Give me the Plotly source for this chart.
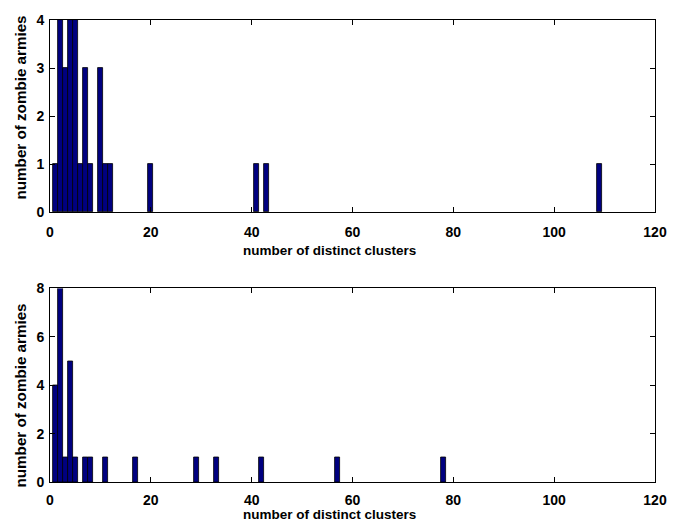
import plotly.graph_objects as go
from plotly.subplots import make_subplots

# Histogram counts: number of distinct clusters -> number of zombie armies
top_clusters = [1, 2, 3, 4, 5, 6, 7, 8, 10, 11, 12, 20, 41, 43, 109]
top_counts = [1, 4, 3, 4, 4, 1, 3, 1, 3, 1, 1, 1, 1, 1, 1]

bottom_clusters = [1, 2, 3, 4, 5, 7, 8, 11, 17, 29, 33, 42, 57, 78]
bottom_counts = [4, 8, 1, 5, 1, 1, 1, 1, 1, 1, 1, 1, 1, 1]

x_ticks = [0, 20, 40, 60, 80, 100, 120]
top_y_ticks = [0, 1, 2, 3, 4]
bottom_y_ticks = [0, 2, 4, 6, 8]

x_title = "number of distinct clusters"
y_title = "number of zombie armies"

bar_fill = "#000080"
family = "Liberation Sans, Arial, sans-serif"
tick_font = dict(family=family, size=14, color="black", weight="bold")
xtitle_font = dict(family=family, size=13.5, color="black", weight="bold")
ytitle_font = dict(family=family, size=15.2, color="black", weight="bold")

fig = make_subplots(rows=2, cols=1, vertical_spacing=0.0)

fig.add_trace(go.Bar(x=top_clusters, y=top_counts, width=1,
                     marker=dict(color=bar_fill, line=dict(color="black", width=0.8)),
                     showlegend=False), row=1, col=1)
fig.add_trace(go.Bar(x=bottom_clusters, y=bottom_counts, width=1,
                     marker=dict(color=bar_fill, line=dict(color="black", width=0.8)),
                     showlegend=False), row=2, col=1)

axis_style = dict(showline=True, linecolor="black", linewidth=1, mirror="ticks",
                  ticks="inside", ticklen=5, tickcolor="black", tickwidth=1,
                  showgrid=False, zeroline=False, tickfont=tick_font)

fig.update_xaxes(range=[0, 120], tickvals=x_ticks, domain=[0, 1], **axis_style)
fig.update_xaxes(ticklabelstandoff=7, row=1, col=1)
fig.update_xaxes(ticklabelstandoff=5, row=2, col=1)
fig.update_yaxes(ticklabelstandoff=2, **axis_style)

fig.update_yaxes(range=[0, 4], tickvals=top_y_ticks, domain=[0.584, 1.0], row=1, col=1)
fig.update_yaxes(range=[0, 8], tickvals=bottom_y_ticks, domain=[0.0, 0.419], row=2, col=1)

# Axis labels placed as paper-referenced text (plot area spans 50..664 px wide, 20..482 px high)
def px_x(px):
    return (px - 50) / 614.0

def px_y(py):
    return (482 - py) / 462.0

labels = [
    dict(text=x_title, x=px_x(333.5), y=px_y(250), yanchor="middle", textangle=0, font=xtitle_font),
    dict(text=x_title, x=px_x(333.5), y=px_y(523), yanchor="bottom", textangle=0, font=xtitle_font),
    dict(text=y_title, x=px_x(20), y=px_y(107), yanchor="middle", textangle=-90, font=ytitle_font),
    dict(text=y_title, x=px_x(20), y=px_y(395), yanchor="middle", textangle=-90, font=ytitle_font),
]
for lab in labels:
    fig.add_annotation(xref="paper", yref="paper", showarrow=False,
                       xanchor="center", borderpad=0, **lab)

fig.update_layout(width=679, height=523,
                  margin=dict(l=50, r=15, t=20, b=41),
                  paper_bgcolor="white", plot_bgcolor="white",
                  bargap=0, barmode="overlay", font=tick_font)

fig.write_html("out.html")
